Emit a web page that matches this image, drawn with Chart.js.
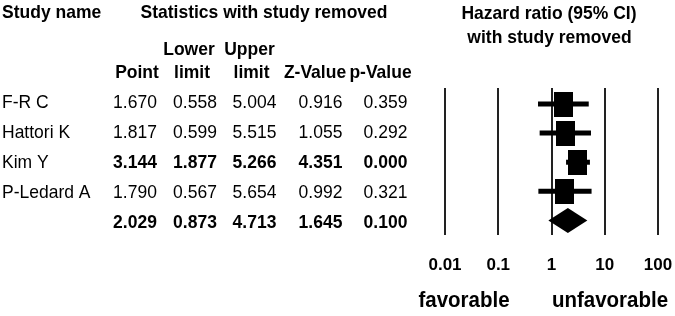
<!DOCTYPE html>
<html>
<head>
  <title>Hazard ratio with study removed</title>
  <meta charset="utf-8">
  <script src="https://cdn.jsdelivr.net/npm/chart.js"></script>
  <style>
    body { margin: 0; background: #fff; }
    canvas { display: block; }
  </style>
</head>
<body>
  <canvas id="forestChart" width="675" height="316"></canvas>

  <script>
    // Data (one-study-removed analysis)
    const studies = ['F-R C', 'Hattori K', 'Kim Y', 'P-Ledard A'];
    const pointEst = [1.670, 1.817, 3.144, 1.790];
    const lowerLim = [0.558, 0.599, 1.877, 0.567];
    const upperLim = [5.004, 5.515, 5.266, 5.654];
    const zValues = [0.916, 1.055, 4.351, 0.992];
    const pValues = [0.359, 0.292, 0.000, 0.321];
    const boldRows = [false, false, true, false];

    // Pooled estimate
    const summary = [2.029, 0.873, 4.713, 1.645, 0.100];

    // x axis
    const tickValues = [0.01, 0.1, 1, 10, 100];
    const tickLabels = ['0.01', '0.1', '1', '10', '100'];

    const FONT = '"Liberation Sans", Arial, sans-serif';

    // black box used as point marker
    const box = document.createElement('canvas');
    box.width = 19;
    box.height = 25;
    const bctx = box.getContext('2d');
    bctx.fillStyle = '#000';
    bctx.fillRect(0, 0, box.width, box.height);

    // text helper, slightly stretched vertically like the original
    function txt(ctx, s, x, y, size, bold, align) {
      ctx.save();
      ctx.translate(x, y);
      ctx.scale(1, 1.1);
      ctx.font = (bold ? 'bold ' : '') + size + 'px ' + FONT;
      ctx.textAlign = align || 'left';
      ctx.textBaseline = 'alphabetic';
      ctx.fillStyle = '#000';
      ctx.fillText(s, 0, 0);
      ctx.restore();
    }

    const tablePlugin = {
      id: 'table',
      afterDraw(chart) {
        const ctx = chart.ctx;
        // headers
        txt(ctx, 'Study name', 2, 18, 17.5, true);
        txt(ctx, 'Statistics with study removed', 264, 18, 17.5, true, 'center');
        txt(ctx, 'Lower', 189, 55, 17.5, true, 'center');
        txt(ctx, 'Upper', 249.5, 55, 17.5, true, 'center');
        txt(ctx, 'Point', 137, 78, 17.5, true, 'center');
        txt(ctx, 'limit', 192, 78, 17.5, true, 'center');
        txt(ctx, 'limit', 251.5, 78, 17.5, true, 'center');
        txt(ctx, 'Z-Value', 315, 78, 17.5, true, 'center');
        txt(ctx, 'p-Value', 380.5, 78, 17.5, true, 'center');
        txt(ctx, 'Hazard ratio (95% CI)', 549, 19, 17.5, true, 'center');
        txt(ctx, 'with study removed', 549.5, 43, 17.5, true, 'center');

        const cols = [135, 195, 254.5, 320.5, 385.5];
        studies.forEach((name, i) => {
          const y = 108 + i * 30;
          txt(ctx, name, 2, y, 17.5, false);
          const vals = [pointEst[i], lowerLim[i], upperLim[i], zValues[i], pValues[i]];
          vals.forEach((v, j) => txt(ctx, v.toFixed(3), cols[j], y, 17.5, boldRows[i], 'center'));
        });
        summary.forEach((v, j) => txt(ctx, v.toFixed(3), cols[j], 228, 17.5, true, 'center'));

        txt(ctx, 'favorable', 464, 307, 20.5, true, 'center');
        txt(ctx, 'unfavorable', 610, 307, 20.5, true, 'center');
      }
    };

    // pooled diamond, placed with the chart scales
    const diamondPlugin = {
      id: 'diamond',
      afterDatasetsDraw(chart) {
        const xs = chart.scales.x, ys = chart.scales.y;
        const xl = xs.getPixelForValue(summary[1]);
        const xp = xs.getPixelForValue(summary[0]);
        const xh = xs.getPixelForValue(summary[2]);
        const y = ys.getPixelForValue(studies.length);
        const h = 12.5;
        const ctx = chart.ctx;
        ctx.save();
        ctx.fillStyle = '#000';
        ctx.beginPath();
        ctx.moveTo(xl, y);
        ctx.lineTo(xp, y - h);
        ctx.lineTo(xh, y);
        ctx.lineTo(xp, y + h);
        ctx.closePath();
        ctx.fill();
        ctx.restore();
      }
    };

    const ciSets = studies.map((s, i) => ({
      label: s + ' CI',
      data: [{ x: lowerLim[i], y: i }, { x: upperLim[i], y: i }],
      showLine: true,
      borderColor: '#000',
      borderWidth: 5,
      pointRadius: 0,
      order: 2
    }));

    const ctx = document.getElementById('forestChart').getContext('2d');
    new Chart(ctx, {
      type: 'scatter',
      data: {
        datasets: [...ciSets, {
          label: 'Point',
          data: pointEst.map((v, i) => ({ x: v, y: i })),
          pointStyle: box,
          pointRadius: 10,
          order: 1
        }]
      },
      options: {
        responsive: false,
        animation: false,
        layout: { padding: { left: 445, right: 17, top: 88, bottom: 0 } },
        plugins: {
          legend: { display: false },
          tooltip: { enabled: false }
        },
        scales: {
          x: {
            type: 'logarithmic',
            min: 0.01,
            max: 100,
            afterBuildTicks: s => { s.ticks = tickValues.map(v => ({ value: v })); },
            afterFit: s => {
              s.height = 81;
              // labels at the ends must not shrink the plot
              s.paddingLeft = 0;
              s.paddingRight = 0;
            },
            border: { display: false },
            grid: { color: '#222', lineWidth: 2, drawTicks: false },
            ticks: {
              autoSkip: false,
              maxRotation: 0,
              padding: 20,
              color: '#000',
              font: { family: FONT, size: 17, weight: 'bold' },
              callback: (v, i) => tickLabels[i]
            }
          },
          y: {
            type: 'linear',
            display: false,
            reverse: true,
            min: -0.55,
            max: 4.5
          }
        }
      },
      plugins: [diamondPlugin, tablePlugin]
    });
  </script>
</body>
</html>
